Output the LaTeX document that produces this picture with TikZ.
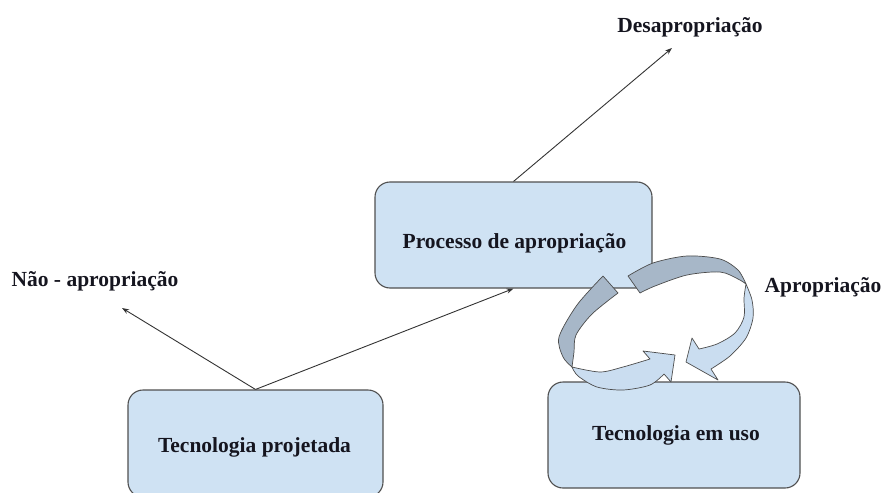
\documentclass[tikz,border=0pt]{standalone}
\usepackage{fontspec}
\setmainfont{Liberation Serif}
\usetikzlibrary{arrows.meta}
\definecolor{boxfill}{HTML}{CFE2F3}
\definecolor{boxline}{HTML}{505050}
\definecolor{ribbondark}{HTML}{A7B7C8}
\definecolor{ribbonlight}{HTML}{CADDF0}
\definecolor{inkdark}{HTML}{15151F}
\begin{document}
\begin{tikzpicture}[x=1pt,y=-1pt,
  stagebox/.style={draw=boxline, line width=1.1pt, fill=boxfill, rounded corners=15pt, inner sep=0pt},
  caption/.style={font=\fontsize{21.5}{24}\selectfont\bfseries, text=inkdark, anchor=base, inner sep=0pt},
  flow/.style={draw=black!80, line width=0.9pt, -{Stealth[length=7pt,width=5pt]}},
  ribbon/.style={draw=black!70, line width=0.7pt, line join=round}
]
\useasboundingbox (0,0) rectangle (882,492);

% stage boxes
\node[stagebox, minimum width=277pt, minimum height=106pt] (proc) at (513.5,235) {};
\node[stagebox, minimum width=255pt, minimum height=107pt] (proj) at (255.5,443.5) {};
\node[stagebox, minimum width=252pt, minimum height=106pt] (uso)  at (674,435) {};

\node[caption] (tProc) at (514.5,248) {Processo de apropriação};
\node[caption] (tProj) at (254.5,452) {Tecnologia projetada};
\node[caption] (tUso)  at (676,440) {Tecnologia em uso};

% free ends of the outgoing arrows
\coordinate (nao) at (122,308);
\coordinate (desap) at (672,48);

\draw[flow] (proj.north) -- (nao);
\draw[flow] (proj.north) -- (proc.south);
\draw[flow] (proc.north) -- (desap);

\node[caption] (lblDesap) at (690,33) {Desapropriação};
\node[caption] (lblNao) at (95,286) {Não - apropriação};
\node[caption] (lblApro) at (823,292) {Apropriação};

% appropriation cycle: two twisted ribbon arrows
% left ribbon, back face
\filldraw[ribbon, fill=ribbondark]
  plot[smooth] coordinates {(603,276) (577,305) (559,337) (563,357) (572,367)}
  -- plot[smooth] coordinates {(572,367) (574,352) (576,335) (592,314) (618,293)}
  -- cycle;
% left ribbon, front face with head
\filldraw[ribbon, fill=ribbonlight]
  plot[smooth] coordinates {(572,367) (600,372) (623,367) (650,359)}
  -- (643,351) -- (675,355) -- (671,382) -- (664,374)
  -- plot[smooth] coordinates {(664,374) (650,385) (623,390) (597,387) (578,376) (572,367)}
  -- cycle;
% right ribbon, back face
\filldraw[ribbon, fill=ribbondark]
  plot[smooth] coordinates {(628,276) (653,263) (687,256) (720,259) (738,270) (746,284)}
  -- plot[smooth] coordinates {(746,284) (738,279) (720,272) (687,275) (655,286) (640,293)}
  -- cycle;
% right ribbon, front face with head
\filldraw[ribbon, fill=ribbonlight]
  plot[smooth] coordinates {(746,284) (752,300) (753,318) (746,338) (730,356) (711,369)}
  -- (718,380) -- (686,362) -- (692,338) -- (699,349)
  -- plot[smooth] coordinates {(699,349) (717,344) (735,333) (744,317) (744,298) (746,284)}
  -- cycle;
\end{tikzpicture}
\end{document}
